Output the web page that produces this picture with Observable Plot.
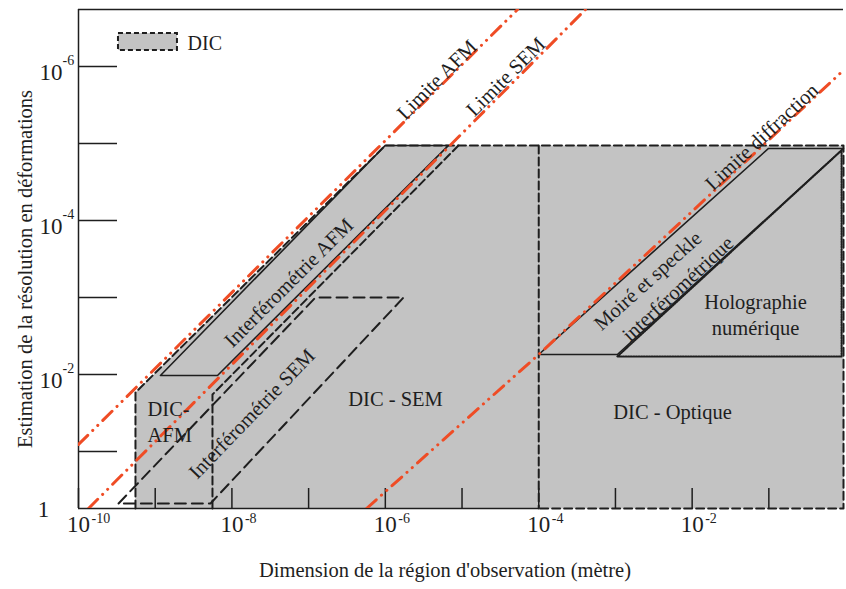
<!DOCTYPE html>
<html><head><meta charset="utf-8">
<script src="https://cdn.jsdelivr.net/npm/d3@7"></script>
<script src="https://cdn.jsdelivr.net/npm/@observablehq/plot@0.6"></script>
<style>body{margin:0;background:#fff} svg{display:block}</style>
</head><body><div id="chart"></div>
<script>
// ---- scale extents and ticks ----
const xDomain = [1e-10, 0.94];
const yDomain = [0.55, 1.82e-7];
const xTickValues = [1e-10, 1e-9, 1e-8, 1e-7, 1e-6, 1e-5, 1e-4, 1e-3, 1e-2, 1e-1];
const xLabelValues = [1e-10, 1e-8, 1e-6, 1e-4, 1e-2];
const xLabelExponents = ["-10", "-8", "-6", "-4", "-2"];
const yTickValues = [1e-6, 1e-5, 1e-4, 1e-3, 1e-2, 1e-1];
const yLabelValues = [1e-6, 1e-4, 1e-2];
const yLabelExponents = ["-6", "-4", "-2"];
const yBottomLabel = "1";
const xTitle = "Dimension de la région d'observation (mètre)";
const yTitle = "Estimation de la résolution en déformations";

// ---- limit lines [dimension, resolution] ----
const limiteAFM = [[1e-10, 0.0811], [5.30e-5, 1.82e-7]];
const limiteSEM = [[1.35e-10, 0.55], [4.07e-4, 1.82e-7]];
const limiteDiffraction = [[5.69e-7, 0.55], [1e-4, 5.5e-3], [0.94, 1.12e-6]];

// ---- DIC domain (grey) and its dashed boundaries ----
const dicRegion = [[5.53e-10, 0.55], [5.53e-10, 0.01714], [1e-6, 1.06e-5], [0.94, 1.06e-5], [0.94, 0.55]];
const dicOutline = [[5.53e-10, 0.55], [5.53e-10, 0.01714], [1e-6, 1.06e-5], [0.94, 1.06e-5], [0.94, 0.55], [1e-4, 0.55]];
const dicSemUpper = [[5.58e-9, 0.55], [5.58e-9, 0.0182], [9e-6, 1.06e-5]];
const dicOptiqueLeft = [[1e-4, 1.06e-5], [1e-4, 0.55]];

// ---- other techniques ----
const interfSEM = [[3.33e-10, 0.473], [1.23e-7, 1e-3], [1.73e-6, 1e-3], [5.26e-9, 0.473]];
const interfAFM = [[1.17e-9, 0.0103], [1e-6, 1.06e-5], [6.67e-6, 1.06e-5], [6.49e-9, 0.0103]];
const moire = [[1e-4, 5.5e-3], [0.099, 1.16e-5], [0.94, 1.16e-5], [1.06e-3, 5.5e-3]];
const holographie = [[1.06e-3, 5.83e-3], [0.887, 1.23e-5], [0.887, 5.83e-3]];

// ---- annotations ----
const labelText = ["Limite AFM", "Limite SEM", "Limite diffraction", "Interférométrie AFM",
  "Interférométrie SEM", "DIC - SEM", "DIC - Optique", "Moiré et speckle", "interférométrique",
  "Holographie\nnumérique"];
const labelX = [4.52e-6, 3.58e-5, 0.078, 5.31e-8, 1.75e-8, 1.36e-6, 5.55e-3, 2.54e-3, 6.27e-3, 0.0671];
const labelY = [1.43e-6, 1.31e-6, 7.87e-6, 6.19e-4, 0.0312, 0.0199, 0.0294, 5.83e-4, 7.41e-4, 1.61e-3];
const dicAfmLabel = "DIC-\nAFM";
const dicAfmPos = [7.94e-10, 0.0395];
const legendLabel = "DIC";
const legendBox = [[3.32e-10, 1.95e-9, 3.73e-7, 6.2e-7]];
const legendTextPos = [2.64e-9, 5.02e-7];

// ---- styles ----
const GRAY = "#c3c3c3", RED = "#ef4c25", INK = "#1e1e1e";
const labelRotate = [-45, -45, -43, -45, -46, 0, 0, -42, -43, 0];
const px = d => d[0], py = d => d[1];
const redStyle = {x: px, y: py, stroke: RED, strokeWidth: 3, strokeDasharray: "13,7,0.1,7,0.1,7", strokeLinecap: "round", clip: true};
const dashStyle = {x: px, y: py, stroke: INK, strokeWidth: 2, strokeDasharray: "8,4"};
const labels = labelText.map((t, i) => ({t, x: labelX[i], y: labelY[i], r: labelRotate[i]}));

const plot = Plot.plot({
  width: 846, height: 589,
  marginLeft: 78, marginRight: 3, marginTop: 9, marginBottom: 81,
  x: {type: "log", domain: xDomain},
  y: {type: "log", domain: yDomain},
  style: {fontFamily: "'Liberation Serif', 'DejaVu Serif', serif", color: INK, background: "#fff"},
  marks: [
    Plot.line(dicRegion, {x: px, y: py, fill: GRAY, stroke: "none", curve: "linear-closed"}),
    // frame
    Plot.ruleX([xDomain[0]], {stroke: INK, strokeWidth: 1.5}),
    Plot.ruleY([yDomain[1]], {stroke: INK, strokeWidth: 1.5}),
    Plot.ruleY([yDomain[0]], {x1: xDomain[0], x2: 1e-4, stroke: INK, strokeWidth: 1.5}),
    Plot.axisX({ticks: xTickValues, tickSize: -20, tickFormat: () => "", label: null, strokeWidth: 1.5}),
    Plot.axisY({ticks: yTickValues, tickSize: -39, tickFormat: () => "", label: null, strokeWidth: 1.5}),
    // techniques
    Plot.line(interfAFM, {x: px, y: py, stroke: INK, strokeWidth: 1.6, curve: "linear-closed"}),
    Plot.line(moire, {x: px, y: py, stroke: INK, strokeWidth: 1.6, curve: "linear-closed"}),
    Plot.line(holographie, {x: px, y: py, stroke: INK, strokeWidth: 2, strokeDasharray: "1.3,1.3", curve: "linear-closed"}),
    Plot.line(interfSEM, {...dashStyle, strokeDasharray: "11,6", curve: "linear-closed"}),
    Plot.line(dicOutline, dashStyle),
    Plot.line(dicSemUpper, dashStyle),
    Plot.line(dicOptiqueLeft, dashStyle),
    // limits
    Plot.line(limiteAFM, redStyle),
    Plot.line(limiteSEM, redStyle),
    Plot.line(limiteDiffraction, redStyle),
    // legend
    Plot.rect(legendBox, {x1: d => d[0], x2: d => d[1], y1: d => d[2], y2: d => d[3], fill: GRAY, stroke: INK, strokeWidth: 2, strokeDasharray: "5,3"}),
    Plot.text([legendLabel], {x: legendTextPos[0], y: legendTextPos[1], textAnchor: "start", fontSize: 20}),
    // annotations
    Plot.text(labels, {x: "x", y: "y", text: "t", rotate: "r", fontSize: 20.5, lineHeight: 1.3}),
    Plot.text([dicAfmLabel], {x: dicAfmPos[0], y: dicAfmPos[1], textAnchor: "start", fontSize: 20.5, lineHeight: 1.3}),
    // tick labels
    Plot.text(xLabelValues, {x: d => d, frameAnchor: "bottom", text: () => "10", dy: 23, fontSize: 23, textAnchor: "middle"}),
    Plot.text(xLabelValues, {x: d => d, frameAnchor: "bottom", text: (d, i) => xLabelExponents[i], dx: 13, dy: 14, fontSize: 14, textAnchor: "start"}),
    Plot.text(yLabelValues, {y: d => d, frameAnchor: "left", text: () => "10", dx: -16, dy: 6, fontSize: 23, textAnchor: "end"}),
    Plot.text(yLabelValues, {y: d => d, frameAnchor: "left", text: (d, i) => yLabelExponents[i], dx: -16, dy: -6, fontSize: 14, textAnchor: "start"}),
    Plot.text([yBottomLabel], {frameAnchor: "bottom-left", dx: -35, dy: 8, fontSize: 23, textAnchor: "middle"}),
    // axis titles
    Plot.text([xTitle], {frameAnchor: "bottom", dx: -16, dy: 68, fontSize: 20.5, textAnchor: "middle"}),
    Plot.text([yTitle], {frameAnchor: "left", dx: -53, dy: 10, rotate: -90, fontSize: 20.5, textAnchor: "middle"})
  ]
});
document.getElementById("chart").append(plot);
</script>
</body></html>
